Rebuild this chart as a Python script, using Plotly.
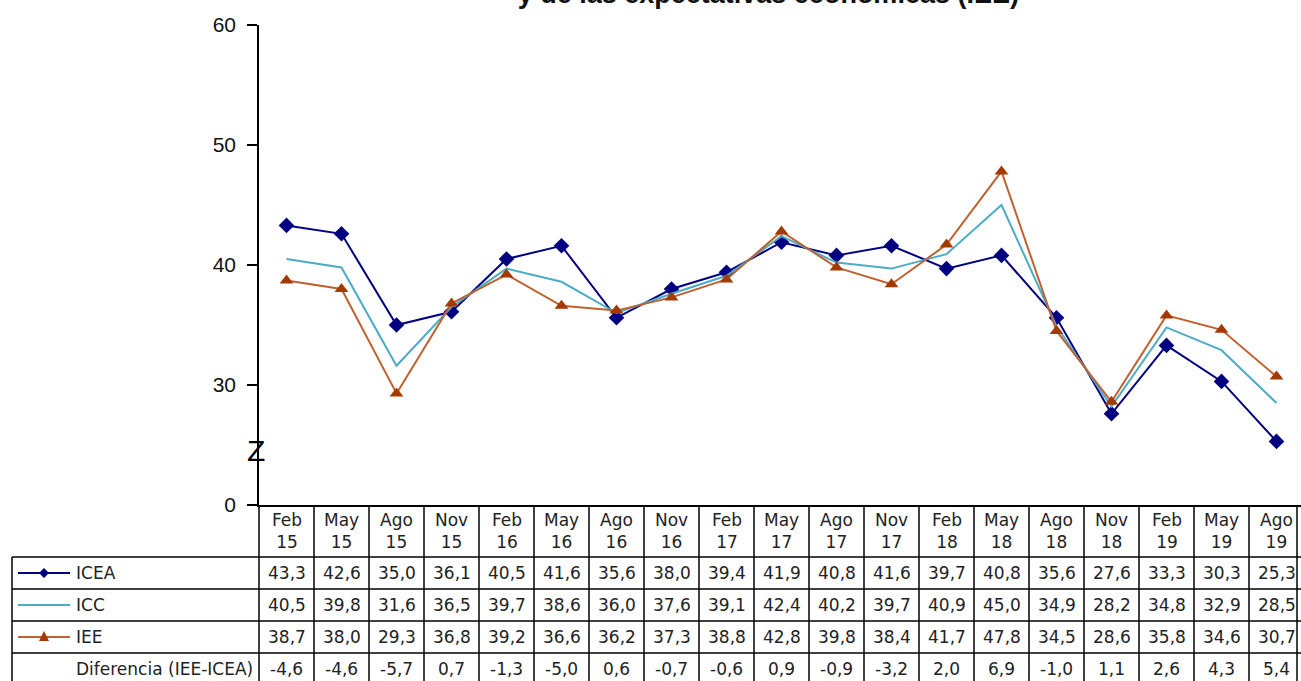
import plotly.graph_objects as go

# --- data -------------------------------------------------------------
periods = ["Feb<br>15", "May<br>15", "Ago<br>15", "Nov<br>15",
           "Feb<br>16", "May<br>16", "Ago<br>16", "Nov<br>16",
           "Feb<br>17", "May<br>17", "Ago<br>17", "Nov<br>17",
           "Feb<br>18", "May<br>18", "Ago<br>18", "Nov<br>18",
           "Feb<br>19", "May<br>19", "Ago<br>19"]

icea = [43.3, 42.6, 35.0, 36.1, 40.5, 41.6, 35.6, 38.0, 39.4, 41.9,
        40.8, 41.6, 39.7, 40.8, 35.6, 27.6, 33.3, 30.3, 25.3]
icc = [40.5, 39.8, 31.6, 36.5, 39.7, 38.6, 36.0, 37.6, 39.1, 42.4,
       40.2, 39.7, 40.9, 45.0, 34.9, 28.2, 34.8, 32.9, 28.5]
iee = [38.7, 38.0, 29.3, 36.8, 39.2, 36.6, 36.2, 37.3, 38.8, 42.8,
       39.8, 38.4, 41.7, 47.8, 34.5, 28.6, 35.8, 34.6, 30.7]
diferencia = [-4.6, -4.6, -5.7, 0.7, -1.3, -5.0, 0.6, -0.7, -0.6, 0.9,
              -0.9, -3.2, 2.0, 6.9, -1.0, 1.1, 2.6, 4.3, 5.4]

y_tickvals = [20, 30, 40, 50, 60]
y_ticktext = ["0", "30", "40", "50", "60"]   # broken axis: bottom shows 0

title_text = ("Índice de Confianza Empresarial Agregado (ICEA), del Consumidor (ICC)<br>"
              "y de las expectativas económicas (IEE)")

ICEA_COLOR = "#000080"
ICC_COLOR = "#4BACC6"
IEE_LINE = "#C0602E"
IEE_MARK = "#A33A00"

# --- geometry (pixels) ------------------------------------------------
W, H = 1301, 681
L, R, T, B = 259, 0, 25, 176
PW = W - L - R
PH = H - T - B
COL_W = 55.0


def fx(p):
    # pixel x -> paper x
    return (p - L) / PW


def fy(p):
    # pixel y -> paper y
    return (T + PH - p) / PH


x = list(range(len(periods)))
fig = go.Figure()

fig.add_trace(go.Scatter(
    x=x, y=icea, mode="lines+markers", name="ICEA",
    line=dict(color=ICEA_COLOR, width=2),
    marker=dict(symbol="diamond", size=12, color=ICEA_COLOR),
))
fig.add_trace(go.Scatter(
    x=x, y=icc, mode="lines", name="ICC",
    line=dict(color=ICC_COLOR, width=2),
))
fig.add_trace(go.Scatter(
    x=x, y=iee, mode="lines+markers", name="IEE",
    line=dict(color=IEE_LINE, width=2),
    marker=dict(symbol="triangle-up", size=12, color=IEE_MARK),
))

fig.update_xaxes(
    range=[-0.5, -0.5 + PW / COL_W],
    showticklabels=False, showgrid=False, zeroline=False,
    showline=True, linecolor="black", linewidth=1.5,
)
fig.update_yaxes(
    range=[20, 60], tickvals=y_tickvals, ticktext=y_ticktext,
    ticks="outside", ticklen=10, tickwidth=1.5, tickcolor="black",
    ticklabelstandoff=7,
    showgrid=False, zeroline=False,
    showline=True, linecolor="black", linewidth=1.5,
    tickfont=dict(family="Liberation Sans, Arial, sans-serif", size=21, color="#111"),
)

# --- data table under the plot ------------------------------------------
TABLE_FONT = dict(family="DejaVu Sans, Verdana, sans-serif", size=17, color="#222")
row_edges = [505, 557, 589, 621, 653, 695]
line_style = dict(color="black", width=1.5)

# column separators (through the x scale)
for i in range(1, len(periods)):
    fig.add_shape(type="line", xref="x", yref="paper",
                  x0=i - 0.5, x1=i - 0.5, y0=fy(row_edges[0]), y1=fy(row_edges[-1]),
                  line=line_style)
for xp in (L, 1297):
    fig.add_shape(type="line", xref="paper", yref="paper",
                  x0=fx(xp), x1=fx(xp), y0=fy(row_edges[0]), y1=fy(row_edges[-1]),
                  line=line_style)
# label column left border
fig.add_shape(type="line", xref="paper", yref="paper",
              x0=fx(12), x1=fx(12), y0=fy(row_edges[1]), y1=fy(row_edges[-1]),
              line=line_style)
# row separators
for r in row_edges[1:-1]:
    fig.add_shape(type="line", xref="paper", yref="paper",
                  x0=fx(12), x1=1.0, y0=fy(r), y1=fy(r), line=line_style)

# header cells
for xi, lab in zip(x, periods):
    fig.add_annotation(x=xi, y=fy((row_edges[0] + row_edges[1]) / 2), xref="x", yref="paper",
                       xanchor="center", yanchor="middle",
                       text=lab, showarrow=False, font=TABLE_FONT, align="center")

rows = [("ICEA", icea), ("ICC", icc), ("IEE", iee), ("Diferencia (IEE-ICEA)", diferencia)]
for k, (name, vals) in enumerate(rows):
    top = row_edges[k + 1]
    yc = fy(top + 16)
    for xi, v in zip(x, vals):
        fig.add_annotation(x=xi, y=yc, xref="x", yref="paper",
                           xanchor="center", yanchor="middle",
                           text=f"{v:.1f}".replace(".", ","), showarrow=False,
                           font=TABLE_FONT)
    fig.add_annotation(x=fx(74), y=yc, xref="paper", yref="paper",
                       xanchor="left", yanchor="middle",
                       text=name, showarrow=False, font=TABLE_FONT)


# legend keys in the label column
def key_line(yp, color):
    fig.add_shape(type="line", xref="paper", yref="paper",
                  x0=fx(18), x1=fx(70), y0=fy(yp), y1=fy(yp),
                  line=dict(color=color, width=2))


y_icea = row_edges[1] + 16
y_icc = row_edges[2] + 16
y_iee = row_edges[3] + 16
key_line(y_icea, ICEA_COLOR)
key_line(y_icc, ICC_COLOR)
key_line(y_iee, IEE_LINE)
cx = 44
fig.add_shape(type="path", xref="paper", yref="paper",
              path=(f"M {fx(cx)} {fy(y_icea - 5)} L {fx(cx + 5)} {fy(y_icea)} "
                    f"L {fx(cx)} {fy(y_icea + 5)} L {fx(cx - 5)} {fy(y_icea)} Z"),
              fillcolor=ICEA_COLOR, line=dict(width=0))
fig.add_shape(type="path", xref="paper", yref="paper",
              path=(f"M {fx(cx)} {fy(y_iee - 6)} L {fx(cx + 5)} {fy(y_iee + 4)} "
                    f"L {fx(cx - 5)} {fy(y_iee + 4)} Z"),
              fillcolor=IEE_MARK, line=dict(width=0))

# axis break mark
fig.add_annotation(x=fx(256), y=fy(450), xref="paper", yref="paper",
                   xanchor="center", yanchor="middle",
                   text="Z", showarrow=False,
                   font=dict(family="Liberation Sans, Arial, sans-serif", size=30, color="black"))

# title (its upper part falls outside the page, as in the source)
fig.add_annotation(x=fx(768), y=fy(11), xref="paper", yref="paper",
                   xanchor="center", yanchor="bottom", text=title_text, showarrow=False,
                   font=dict(family="Liberation Sans, Arial, sans-serif", size=27,
                             color="#111", weight="bold"),
                   align="center")

fig.update_layout(
    width=W, height=H,
    margin=dict(l=L, r=R, t=T, b=B),
    showlegend=False,
    paper_bgcolor="white", plot_bgcolor="white",
)

# drop the default page margin so the figure fills the window exactly
fig.write_html("out.html",
               config={"displayModeBar": False},
               post_script="document.body.style.margin='0';document.body.style.overflow='hidden';")
